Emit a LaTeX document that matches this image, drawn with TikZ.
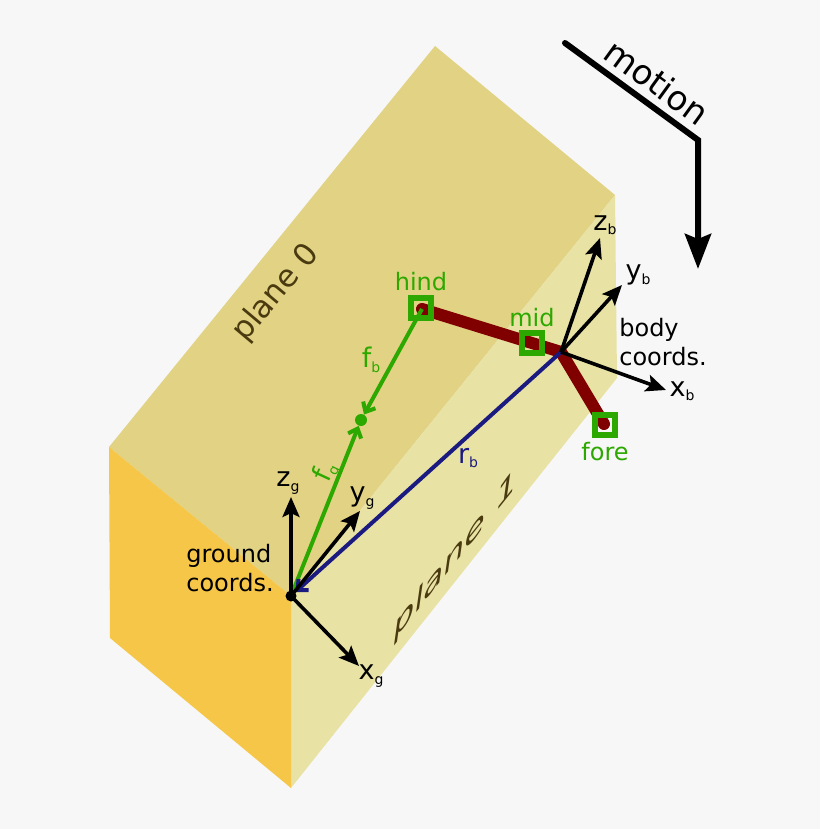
\documentclass[tikz,border=0pt]{standalone}
\usepackage{fontspec}
\setmainfont{DejaVu Sans}
\usetikzlibrary{arrows.meta,positioning}
\definecolor{paper}{HTML}{F7F7F7}
\definecolor{topface}{HTML}{E2D284}
\definecolor{sideface}{HTML}{E8E2A4}
\definecolor{endface}{HTML}{F6C648}
\definecolor{legreen}{HTML}{2CA800}
\definecolor{rodred}{HTML}{800000}
\definecolor{posblue}{HTML}{1A1A80}
\definecolor{planeink}{HTML}{4A3A10}
\newcommand{\sbs}[1]{\raisebox{-.3ex}{\fontsize{14}{14}\selectfont #1}}
\tikzset{
    every picture/.style={x=1pt,y=-1pt,node distance=1pt,inner sep=0pt},
    txt/.style={font=\fontsize{24}{29}\selectfont,align=left},
    sym/.style={font=\fontsize{27}{30}\selectfont},
    gtxt/.style={txt,text=legreen},
    axis/.style={line width=3.6pt,-{Stealth[length=20pt,width=17pt,inset=4pt]}},
    orig/.style={circle,fill=black,minimum size=11pt},
    marker/.style={draw=legreen,line width=6pt,minimum size=20pt},
    green arrow/.style={draw=legreen,line width=4pt,-{Straight Barb[length=8pt,width=14pt,line width=4pt]}},
    plane/.style={font=\fontsize{31}{31}\selectfont,text=planeink}
}

\begin{document}
\begin{tikzpicture}
    \fill[paper] (0,0) rectangle (820,829);
    \useasboundingbox (0,0) rectangle (820,829);
    % block
    \fill[topface]  (109,447) -- (435,46) -- (615,195) -- (291,596) -- cycle;
    \fill[sideface] (291,596) -- (615,195) -- (617,378) -- (291,788) -- cycle;
    \fill[endface]  (109,447) -- (291,596) -- (291,788) -- (110,638) -- cycle;
    \node[plane,rotate=50]   (plane0) at (276,293) {plane 0};
    \node[plane,font=\fontsize{33}{33}\selectfont,cm={1.0,1.25,.15,1.05,(0,0)},transform shape] (plane1) at (455,556) {plane 1};

    % frames
    \node[orig] (ground) at (291,596) {};
    \node[orig] (body)   at (561,352) {};
    \coordinate (zg) at (291,497);
    \coordinate (yg) at (360,511);
    \coordinate (xg) at (359,666);
    \coordinate (zb) at (600,238);
    \coordinate (yb) at (622,285);
    \coordinate (xb) at (666,390);

    % rod
    \coordinate (hindpt) at (422,309);
    \coordinate (forept) at (604,424);
    \draw[rodred,line width=12pt,line cap=round,line join=bevel] (hindpt) -- (body.center) -- (forept);
    \node[marker] (hind) at (421,308) {};
    \node[marker] (mid)  at (532,343) {};
    \node[marker] (fore) at (605,425) {};
    \node[gtxt,above=4pt of hind] (hindlbl) {hind};
    \node[gtxt,above=3pt of mid]  (midlbl)  {mid};
    \node[gtxt,below=4pt of fore] (forelbl) {fore};

    % vectors
    \node[circle,fill=legreen,minimum size=12pt] (foot) at (361,420) {};
    \draw[green arrow] (hindpt) -- (foot);
    \draw[green arrow] (ground.center) -- (foot);
    \draw[posblue,line width=4pt,shorten >=6pt,-{Straight Barb[length=8pt,width=15pt,line width=4pt]}] (body.center) -- (ground.center);
    \node[sym,text=legreen] (fb) at (371,360) {f\sbs{b}};
    \node[sym,text=legreen,rotate=65] (fg) at (326,472) {f\sbs{g}};
    \node[sym,text=posblue] (rb) at (468,458) {r\sbs{b}};

    % axes
    \draw[axis] (ground.center) -- (zg);
    \draw[axis] (ground.center) -- (yg);
    \draw[axis] (ground.center) -- (xg);
    \draw[axis] (body.center) -- (zb);
    \draw[axis] (body.center) -- (yb);
    \draw[axis] (body.center) -- (xb);
    \node[sym] (zglbl) at (288,483) {z\sbs{g}};
    \node[sym] (yglbl) at (362,498) {y\sbs{g}};
    \node[sym] (xglbl) at (371,676) {x\sbs{g}};
    \node[sym] (zblbl) at (605,225) {z\sbs{b}};
    \node[sym] (yblbl) at (638,275) {y\sbs{b}};
    \node[sym] (xblbl) at (682,391) {x\sbs{b}};
    \node[txt] (groundlbl) at (230,568) {ground\\coords.};
    \node[txt] (bodylbl)   at (663,342) {body\\coords.};

    % direction of travel
    \coordinate (mstart) at (565,43);
    \coordinate (mbend)  at (698,140);
    \coordinate (mend)   at (698,269);
    \draw[line width=6pt,line cap=round,line join=miter,-{Stealth[length=35pt,width=26pt,inset=5pt]}] (mstart) -- (mbend) -- (mend);
    \node[font=\fontsize{34}{34}\selectfont,rotate=-36] (motion) at (657,82) {motion};
\end{tikzpicture}
\end{document}
